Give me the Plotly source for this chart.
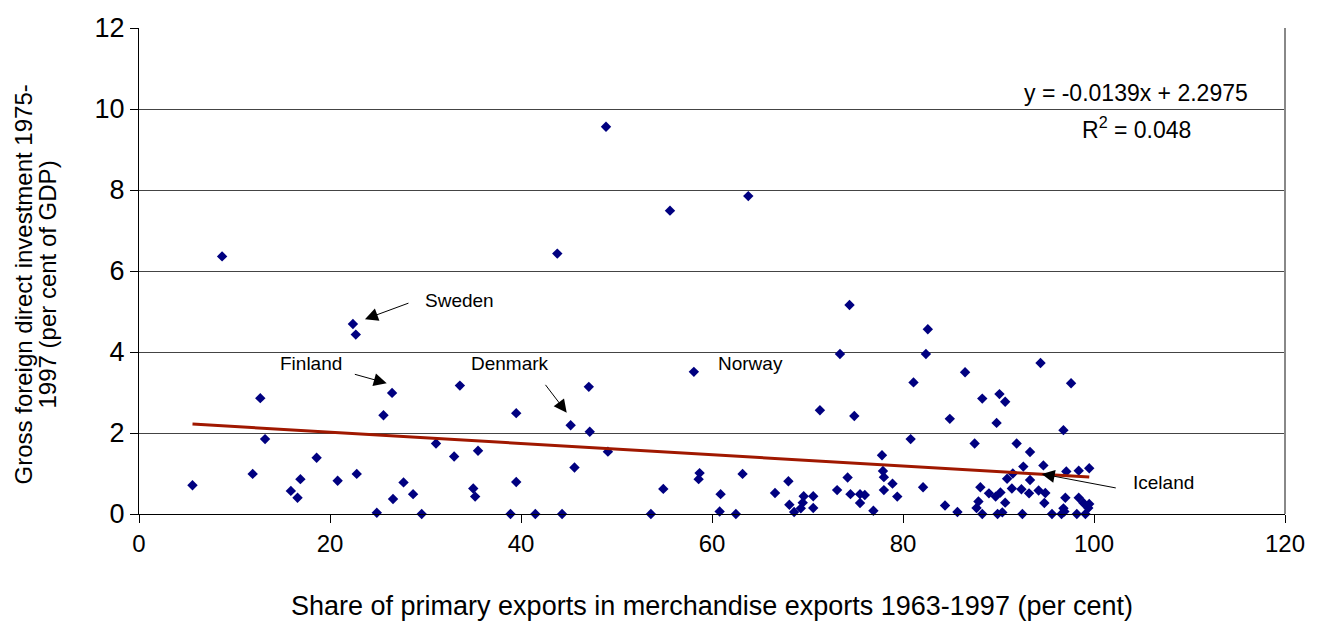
import numpy as np
import plotly.graph_objects as go

# Share of primary exports (%) and gross FDI (% of GDP)
primary_share = [
    5.6, 8.7, 11.9, 12.7, 13.2, 15.9, 16.6, 16.9, 18.6, 20.8, 22.4, 22.7, 22.8, 24.9,
    25.6, 26.5, 26.6, 27.7, 28.7, 29.6, 31.1, 33.0, 33.6, 35.0, 35.2, 35.5, 38.9,
    39.5, 39.5, 41.5, 43.8, 44.3, 45.2, 45.6, 47.1, 47.2, 48.9, 49.1, 53.6, 54.9,
    55.6, 58.1, 58.7, 58.6, 60.8, 60.9, 62.5, 63.2, 63.8, 66.6,
    68.0, 68.1, 68.6, 69.3, 69.5, 69.6, 70.6, 70.6, 71.3, 73.1, 73.4, 74.2, 74.4,
    74.5, 74.9, 75.5, 75.5, 76.0, 76.9, 77.8, 77.9, 78.0, 78.0, 78.9, 79.4, 80.8,
    81.1, 82.1, 82.4, 82.6, 84.4, 84.9, 85.7, 86.5, 87.5, 87.7, 87.9, 88.1, 88.3,
    88.3, 89.0, 89.7, 89.8, 89.9, 90.1, 90.2, 90.4, 90.7, 90.7, 90.9, 91.4, 91.5,
    91.9, 92.4, 92.5, 92.6, 93.2, 93.3, 93.3, 94.2, 94.4, 94.7, 94.8, 94.9, 95.6,
    96.6, 96.8, 96.8, 96.9, 97.0, 97.1, 97.6, 98.2, 98.4, 98.4, 98.9, 99.1, 99.4,
    99.5, 99.5,
]
fdi_share = [
    0.71, 6.36, 0.99, 2.86, 1.85, 0.57, 0.40, 0.86, 1.39, 0.82, 4.69, 4.43, 0.99, 0.03,
    2.44, 2.99, 0.37, 0.78, 0.49, 0.00, 1.74, 1.42, 3.17, 0.63, 0.43, 1.56, 0.00,
    2.49, 0.79, 0.00, 6.43, 0.00, 2.19, 1.15, 3.14, 2.03, 9.56, 1.54, 0.00, 0.62,
    7.49, 3.51, 1.01, 0.86, 0.06, 0.49, 0.00, 0.99, 7.85, 0.52,
    0.81, 0.23, 0.05, 0.14, 0.28, 0.44, 0.44, 0.15, 2.56, 0.59, 3.95, 0.90, 5.16,
    0.49, 2.42, 0.49, 0.27, 0.47, 0.08, 1.45, 1.06, 0.91, 0.59, 0.75, 0.43, 1.85,
    3.25, 0.66, 3.95, 4.56, 0.21, 2.35, 0.05, 3.50, 1.74, 0.15, 0.31, 0.66, 2.85,
    0.00, 0.51, 0.43, 2.25, 0.00, 2.96, 0.53, 0.04, 2.77, 0.28, 0.87, 0.63, 1.00,
    1.74, 0.61, 0.00, 1.17, 0.51, 1.53, 0.84, 0.58, 3.73, 1.20, 0.27, 0.52, 0.00,
    0.00, 2.07, 0.14, 0.06, 0.40, 1.05, 3.23, 0.00, 1.07, 0.40, 0.27, 0.00, 0.15,
    1.13, 0.25,
]

# Linear trend as printed on the chart
trend_slope = -0.0139
trend_intercept = 2.2975
trend_r2 = 0.048

x_ticks = [0, 20, 40, 60, 80, 100, 120]
y_ticks = [0, 2, 4, 6, 8, 10, 12]

x_title = "Share of primary exports in merchandise exports 1963-1997 (per cent)"
y_title_lines = ["Gross foreign direct investment 1975-", "1997 (per cent of GDP)"]

FONT = "Arial, Liberation Sans, sans-serif"

fig = go.Figure()
fig.add_trace(go.Scatter(
    x=primary_share, y=fdi_share, mode="markers",
    marker=dict(symbol="diamond", size=8, color="#000080", line=dict(width=0)),
    showlegend=False, cliponaxis=False,
))

tx = np.array([min(primary_share), max(primary_share)])
fig.add_trace(go.Scatter(
    x=tx, y=trend_slope * tx + trend_intercept, mode="lines",
    line=dict(color="#A01800", width=3), showlegend=False,
))

# page body has an 8px default margin, so the figure is offset by 8px
fig.update_layout(
    width=1321, height=613,
    margin=dict(l=131, r=44, t=20, b=107),
    paper_bgcolor="white", plot_bgcolor="white",
    font=dict(family=FONT, color="black"),
)
fig.update_xaxes(
    range=[0, 120], tickvals=x_ticks, showgrid=False, zeroline=False,
    showline=True, linecolor="black", linewidth=1, automargin=False,
    ticks="outside", ticklen=8, tickcolor="black",
    tickfont=dict(size=24, family=FONT),
    title=dict(text=x_title, font=dict(size=27, family=FONT), standoff=40),
)
fig.update_yaxes(
    range=[0, 12], tickvals=y_ticks, showgrid=True, gridcolor="#444444", gridwidth=1,
    zeroline=False, showline=True, linecolor="black", linewidth=1, automargin=False,
    ticks="outside", ticklen=8, tickcolor="black",
    tickfont=dict(size=27, family=FONT),
)

# y-axis title (two tightly spaced lines)
for line_text, xp in zip(y_title_lines, [-0.1005, -0.0795]):
    fig.add_annotation(xref="paper", yref="paper", x=xp, y=0.472, text=line_text,
                       textangle=-90, showarrow=False, xanchor="center", yanchor="middle",
                       font=dict(size=24, family=FONT))

# right border of plot area
fig.add_shape(type="line", xref="paper", yref="paper", x0=1, x1=1, y0=0, y1=1,
              line=dict(color="#888888", width=2))

# regression text
fig.add_annotation(x=104.4, y=10.4, text=f"y = {trend_slope}x + {trend_intercept}",
                   showarrow=False, font=dict(size=23, family=FONT))
fig.add_annotation(x=104.4, y=9.53, text=f"R<sup>2</sup> = {trend_r2}",
                   showarrow=False, font=dict(size=23, family=FONT))

# country labels
lab_font = dict(size=19, family=FONT)
labels = [("Sweden", 33.6, 5.28), ("Finland", 18.0, 3.72), ("Denmark", 38.8, 3.72),
          ("Norway", 64.0, 3.71), ("Iceland", 107.3, 0.78)]
for t, lx, ly in labels:
    fig.add_annotation(x=lx, y=ly, text=t, showarrow=False, font=lab_font)

arrows = [(23.66, 4.81, 45, -16.6), (25.94, 3.23, -33.4, -9.3),
          (44.79, 2.50, -22.4, -29.4), (94.52, 0.99, 75.6, 14.3)]
for ax_, ay_, dx, dy in arrows:
    fig.add_annotation(x=ax_, y=ay_, text="", showarrow=True, ax=dx, ay=dy,
                       arrowhead=2, arrowsize=2.6, arrowwidth=1, arrowcolor="black")

fig.write_html("out.html")
